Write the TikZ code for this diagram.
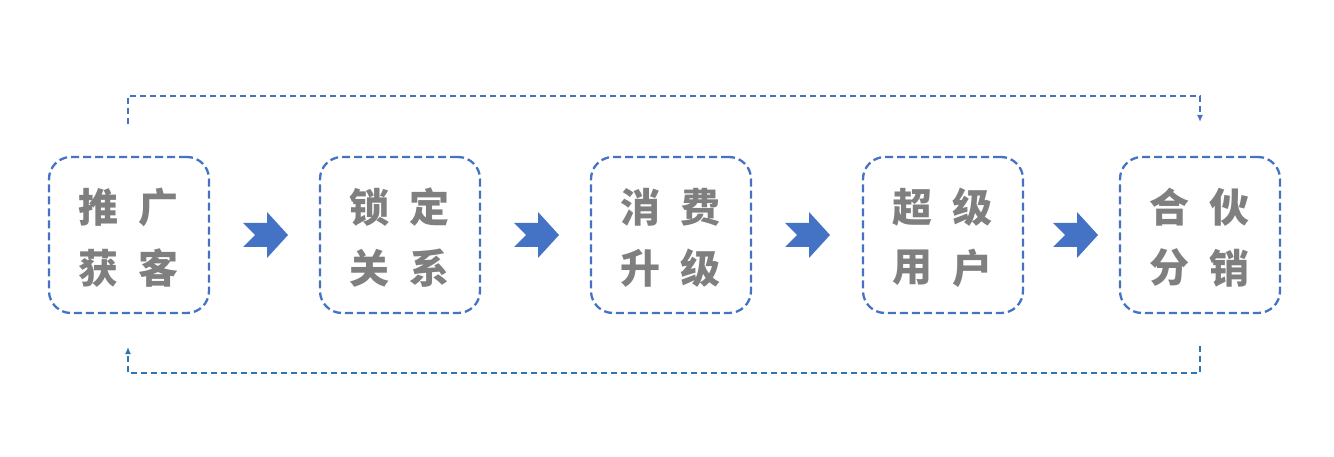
\documentclass[tikz,border=0pt]{standalone}
\usepackage{fontspec}
\usetikzlibrary{arrows.meta}
\newfontfamily\cjk{Noto Sans CJK SC Black}
\definecolor{bx}{HTML}{4472C4}
\definecolor{ln}{HTML}{2E75B6}
\definecolor{tx}{HTML}{7F7F7F}
\begin{document}
\begin{tikzpicture}[x=1pt,y=-1pt,
 stagebox/.style={draw=bx,line width=2.3pt,dash pattern=on 8pt off 4pt,rounded corners=22pt,minimum width=160pt,minimum height=156pt,inner sep=0pt},
 lbl/.style={font=\cjk\fontsize{40}{40}\selectfont,text=tx},
 loopline/.style={line width=2pt,dash pattern=on 6pt off 4pt},
 chev/.style={fill=bx}]
\useasboundingbox (0,0) rectangle (1334,457);
\foreach \n/\x/\a/\b/\c/\d in {s1/129/推/广/获/客,s2/400/锁/定/关/系,s3/671/消/费/升/级,s4/943/超/级/用/户,s5/1200/合/伙/分/销}{
  \node[stagebox] (\n) at (\x,235) {};
  \node[lbl] (\n a) at (\x-31,207) {\a};
  \node[lbl] (\n b) at (\x+29,207) {\b};
  \node[lbl] (\n c) at (\x-31,268) {\c};
  \node[lbl] (\n d) at (\x+29,268) {\d};
}
\foreach \x in {243,514,785,1053}{
  \fill[chev] (\x,223) -- (\x+24,223) -- (\x+24,212) -- (\x+45,235) -- (\x+24,258) -- (\x+24,247) -- (\x,247) -- (\x+12,235) -- cycle;
}
\coordinate (t1) at (128,124);
\coordinate (t2) at (1200,122);
\draw[loopline,bx,-{Latex[length=7pt,width=6pt]}] (t1) -- (128,96) -- (1200,96) -- (t2);
\coordinate (b1) at (1200,346);
\coordinate (b2) at (128,347);
\draw[loopline,ln,-{Latex[length=7pt,width=6pt]}] (b1) -- (1200,373) -- (128,373) -- (b2);
\end{tikzpicture}
\end{document}
